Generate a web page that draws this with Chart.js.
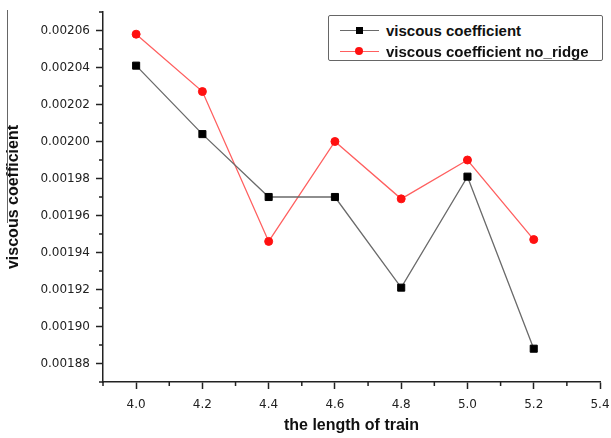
<!DOCTYPE html>
<html>
<head>
<meta charset="utf-8">
<script src="https://cdn.jsdelivr.net/npm/chart.js@4.4.0/dist/chart.umd.min.js"></script>
<style>
  body { margin: 0; background: #fff; }
  #wrap { position: relative; width: 611px; height: 438px; }
  #edge { position: absolute; left: 7px; top: 10px; width: 1px; height: 213px; background: #666; }
  #legend {
    position: absolute; left: 328px; top: 15px; width: 273px; height: 44px;
    border: 1.5px solid #666; border-radius: 2px; background: #fff;
    font: bold 15px "Liberation Sans", Arial, sans-serif; color: #111;
  }
  .item { position: absolute; left: 11px; height: 20px; display: flex; align-items: center; }
  .swatch { position: relative; width: 39px; height: 20px; margin-right: 7px; }
  .swatch .ln { position: absolute; left: 0; right: 0; top: 10px; height: 1.3px; }
  .swatch .mk { position: absolute; left: 15px; top: 6px; width: 8px; height: 8px; }
</style>
</head>
<body>
<div id="wrap">
  <canvas id="chart"></canvas>
  <div id="edge"></div>
  <div id="legend"></div>
</div>
<script>
// length of train (x) and the two viscous coefficient series
const trainLength = [4.0, 4.2, 4.4, 4.6, 4.8, 5.0, 5.2];
const viscous = [0.002041, 0.002004, 0.001970, 0.001970, 0.001921, 0.001981, 0.001888];
const viscousNoRidge = [0.002058, 0.002027, 0.001946, 0.002000, 0.001969, 0.001990, 0.001947];

const xTicks = [4.0, 4.2, 4.4, 4.6, 4.8, 5.0, 5.2, 5.4];
const xMinor = [3.9, 4.1, 4.3, 4.5, 4.7, 4.9, 5.1, 5.3];
const yTicks = [0.00188, 0.00190, 0.00192, 0.00194, 0.00196, 0.00198, 0.00200, 0.00202, 0.00204, 0.00206];
const yMinor = [0.00187, 0.00189, 0.00191, 0.00193, 0.00195, 0.00197, 0.00199, 0.00201, 0.00203, 0.00205, 0.00207];

const axisColor = '#222';
const tickFont = { family: 'DejaVu Sans', size: 12 };
const titleFont = { family: 'Liberation Sans', size: 16, weight: 'bold' };

// short minor ticks between the labelled ones
const minorTicks = {
  id: 'minorTicks',
  afterDraw(chart) {
    const { ctx, scales: { x, y } } = chart;
    ctx.save();
    ctx.strokeStyle = axisColor;
    ctx.lineWidth = 1.5;
    ctx.beginPath();
    xMinor.forEach(v => {
      const px = x.getPixelForValue(v);
      ctx.moveTo(px, x.top);
      ctx.lineTo(px, x.top + 4);
    });
    yMinor.forEach(v => {
      const py = y.getPixelForValue(v);
      ctx.moveTo(y.right - 4, py);
      ctx.lineTo(y.right, py);
    });
    ctx.stroke();
    ctx.restore();
  }
};

// html legend, built from the datasets
const htmlLegend = {
  id: 'htmlLegend',
  afterUpdate(chart) {
    const box = document.getElementById('legend');
    box.innerHTML = '';
    chart.data.datasets.forEach((ds, i) => {
      const item = document.createElement('div');
      item.className = 'item';
      item.style.top = (4 + i * 21) + 'px';
      const sw = document.createElement('span');
      sw.className = 'swatch';
      const ln = document.createElement('span');
      ln.className = 'ln';
      ln.style.background = ds.borderColor;
      const mk = document.createElement('span');
      mk.className = 'mk';
      mk.style.background = ds.pointBackgroundColor;
      if (ds.pointStyle === 'circle') mk.style.borderRadius = '50%';
      else { mk.style.width = '7px'; mk.style.height = '7px'; mk.style.top = '6.5px'; mk.style.left = '15.5px'; }
      sw.appendChild(ln);
      sw.appendChild(mk);
      const txt = document.createElement('span');
      txt.textContent = ds.label;
      item.appendChild(sw);
      item.appendChild(txt);
      box.appendChild(item);
    });
  }
};

new Chart(document.getElementById('chart'), {
  type: 'line',
  data: {
    datasets: [{
      label: 'viscous coefficient',
      data: trainLength.map((x, i) => ({ x, y: viscous[i] })),
      borderColor: '#6a6a6a',
      borderWidth: 1.3,
      pointStyle: 'rect',
      pointRadius: 5,
      pointBackgroundColor: '#000',
      pointBorderColor: '#000',
      pointBorderWidth: 1
    }, {
      label: 'viscous coefficient no_ridge',
      data: trainLength.map((x, i) => ({ x, y: viscousNoRidge[i] })),
      borderColor: '#ff5f5f',
      borderWidth: 1.3,
      pointStyle: 'circle',
      pointRadius: 4,
      pointBackgroundColor: '#ff1010',
      pointBorderColor: '#ff1010',
      pointBorderWidth: 1
    }]
  },
  options: {
    responsive: true,
    maintainAspectRatio: false,
    animation: false,
    layout: { padding: { top: 12, right: 11, left: 0, bottom: 0 } },
    plugins: {
      legend: { display: false },
      tooltip: { enabled: false }
    },
    scales: {
      x: {
        type: 'linear',
        min: 3.9,
        max: 5.4,
        afterBuildTicks: s => { s.ticks = xTicks.map(value => ({ value })); },
        afterFit: s => { s.height = 56; s.paddingLeft = 0; s.paddingRight = 0; },
        border: { display: true, color: axisColor, width: 1.5 },
        grid: { drawOnChartArea: false, drawTicks: true, tickLength: 7, tickColor: axisColor, tickWidth: 1.5 },
        ticks: { color: '#222', font: tickFont, padding: 9, maxRotation: 0, callback: v => v.toFixed(1) },
        title: { display: true, text: 'the length of train', color: '#111', font: titleFont, padding: { top: 0, bottom: 3 } }
      },
      y: {
        type: 'linear',
        min: 0.00187,
        max: 0.00207,
        afterBuildTicks: s => { s.ticks = yTicks.map(value => ({ value })); },
        afterFit: s => { s.width = 103; s.paddingTop = 0; s.paddingBottom = 0; },
        border: { display: true, color: axisColor, width: 1.5 },
        grid: { drawOnChartArea: false, drawTicks: true, tickLength: 7, tickColor: axisColor, tickWidth: 1.5 },
        ticks: { color: '#222', font: tickFont, padding: 6, callback: v => v.toFixed(5) },
        title: { display: true, text: 'viscous coefficient', color: '#111', font: titleFont, padding: { top: 4, bottom: 0 } }
      }
    }
  },
  plugins: [minorTicks, htmlLegend]
});
</script>
</body>
</html>
